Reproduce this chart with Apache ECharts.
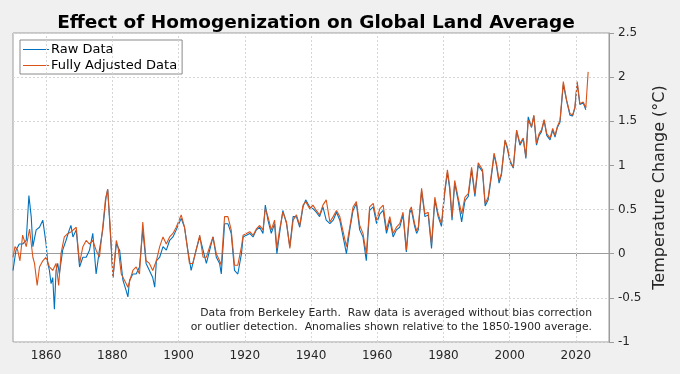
<!DOCTYPE html>
<html>
<head>
<meta charset="utf-8">
<script src="https://cdn.jsdelivr.net/npm/echarts@6/dist/echarts.min.js"></script>
<style>
html,body{margin:0;padding:0;background:#f0f0f0;}
#chart{width:680px;height:374px;}
</style>
</head>
<body>
<div id="chart"></div>
<script>
// ---- Data ----
const rawYears = [1850.0,1850.9,1851.9,1852.9,1854.0,1854.8,1855.5,1856.0,1857.0,1858.0,1859.0,1859.5,1860.0,1860.5,1861.0,1861.5,1862.0,1862.5,1863.0,1863.5,1864.0,1865.0,1866.0,1867.0,1867.5,1868.1,1869.1,1870.1,1871.1,1872.1,1873.1,1874.1,1875.1,1876.1,1877.1,1878.1,1878.6,1879.1,1880.2,1881.2,1882.2,1883.2,1884.2,1884.7,1885.2,1886.2,1887.2,1888.2,1889.2,1890.2,1891.2,1892.2,1892.8,1893.3,1894.3,1895.3,1896.3,1897.3,1898.3,1899.3,1900.8,1901.8,1902.8,1903.8,1905.3,1906.4,1907.4,1908.4,1909.4,1910.4,1911.4,1912.4,1912.9,1913.9,1914.9,1915.9,1916.9,1917.9,1919.0,1919.5,1920.5,1921.5,1922.5,1923.5,1924.5,1925.5,1926.2,1927.0,1928.0,1929.0,1929.7,1930.5,1931.5,1932.6,1933.6,1934.6,1935.6,1936.6,1937.6,1938.4,1939.6,1940.6,1941.6,1942.6,1943.6,1944.6,1945.7,1946.7,1947.7,1948.7,1949.7,1950.7,1951.7,1952.7,1953.7,1954.7,1955.7,1956.7,1957.7,1958.8,1959.8,1960.8,1961.8,1962.8,1963.8,1964.8,1965.8,1966.8,1967.8,1968.8,1969.8,1970.3,1971.3,1971.9,1972.4,1973.4,1974.4,1975.4,1976.4,1977.4,1978.4,1979.4,1980.4,1981.2,1981.9,1982.6,1983.4,1984.4,1985.5,1986.5,1987.5,1988.5,1989.5,1990.5,1991.0,1991.8,1992.6,1993.5,1994.5,1995.3,1996.0,1996.8,1997.5,1998.6,1999.3,2000.1,2001.1,2002.1,2003.1,2004.1,2004.9,2005.6,2006.6,2007.3,2008.1,2008.9,2009.6,2010.4,2011.2,2012.2,2013.0,2013.7,2014.4,2015.2,2016.2,2017.2,2018.2,2019.0,2019.7,2020.4,2021.2,2022.2,2023.0];
const rawTemps = [-0.19,0.04,0.11,0.11,0.15,0.66,0.42,0.08,0.27,0.30,0.38,0.40,0.11,-0.11,-0.19,-0.34,-0.27,-0.63,-0.19,-0.11,-0.23,0.04,0.15,0.27,0.32,0.19,0.27,-0.15,-0.04,-0.04,0.04,0.23,-0.23,0.04,0.27,0.64,0.73,0.42,-0.27,0.11,0.04,-0.30,-0.42,-0.49,-0.30,-0.23,-0.23,-0.15,0.27,-0.11,-0.19,-0.27,-0.38,-0.08,-0.04,0.08,0.04,0.15,0.19,0.27,0.40,0.30,0.04,-0.19,0.04,0.19,0.04,-0.11,0.04,0.19,-0.04,-0.11,-0.23,0.34,0.34,0.23,-0.19,-0.23,0.00,0.19,0.21,0.23,0.19,0.27,0.30,0.23,0.55,0.38,0.23,0.34,0.00,0.23,0.49,0.34,0.08,0.42,0.42,0.30,0.53,0.61,0.53,0.51,0.47,0.42,0.53,0.38,0.34,0.38,0.47,0.38,0.19,0.00,0.27,0.49,0.57,0.27,0.19,-0.08,0.49,0.53,0.34,0.45,0.49,0.23,0.38,0.19,0.27,0.30,0.44,0.02,0.46,0.50,0.31,0.23,0.27,0.71,0.42,0.44,0.06,0.61,0.42,0.31,0.69,0.92,0.73,0.38,0.80,0.61,0.36,0.60,0.65,0.95,0.65,1.00,1.02,0.93,0.54,0.61,0.88,1.12,1.00,0.80,0.89,1.28,1.19,1.04,0.97,1.39,1.23,1.30,1.08,1.55,1.43,1.56,1.23,1.34,1.38,1.51,1.34,1.29,1.40,1.32,1.43,1.49,1.92,1.73,1.57,1.56,1.65,1.93,1.69,1.71,1.63];
const adjYears = [1850.0,1850.6,1851.4,1852.1,1852.9,1854.0,1855.0,1856.0,1856.5,1857.3,1858.0,1859.0,1860.0,1861.0,1862.0,1863.0,1863.8,1864.5,1865.5,1866.6,1867.6,1869.1,1870.1,1871.1,1872.1,1873.1,1874.1,1875.1,1876.1,1877.1,1877.9,1878.6,1879.3,1880.2,1881.2,1881.7,1882.7,1884.2,1884.7,1886.2,1887.2,1888.2,1889.2,1890.2,1891.2,1892.2,1893.3,1894.3,1895.3,1896.3,1897.3,1898.3,1899.3,1900.8,1901.8,1903.3,1904.3,1905.3,1906.4,1907.4,1908.4,1909.4,1910.4,1911.4,1912.4,1912.9,1913.9,1914.9,1915.9,1916.9,1917.9,1919.0,1919.5,1920.5,1921.5,1922.5,1923.5,1924.5,1925.5,1926.2,1927.0,1928.0,1929.0,1929.7,1930.5,1931.5,1932.6,1933.6,1934.6,1935.6,1936.6,1937.6,1938.4,1939.6,1940.6,1941.6,1942.6,1943.6,1944.6,1945.7,1946.7,1947.7,1948.7,1949.7,1950.7,1951.7,1952.7,1953.7,1954.7,1955.7,1956.7,1957.7,1958.8,1959.8,1960.8,1961.8,1962.8,1963.8,1964.8,1965.8,1966.8,1967.8,1968.8,1969.8,1970.3,1971.3,1971.9,1972.4,1973.4,1974.4,1975.4,1976.4,1977.4,1978.4,1979.4,1980.4,1981.2,1981.9,1982.6,1983.4,1984.4,1985.5,1986.5,1987.5,1988.5,1989.5,1990.5,1991.0,1991.8,1992.6,1993.5,1994.5,1995.3,1996.0,1996.8,1997.5,1998.6,1999.3,2000.1,2001.1,2002.1,2003.1,2004.1,2004.9,2005.6,2006.6,2007.3,2008.1,2008.9,2009.6,2010.4,2011.2,2012.2,2013.0,2013.7,2014.4,2015.2,2016.2,2017.2,2018.2,2019.0,2019.7,2020.4,2021.2,2022.2,2023.0,2023.7];
const adjTemps = [-0.04,0.08,0.04,-0.08,0.21,0.08,0.28,-0.04,-0.11,-0.36,-0.15,-0.08,-0.04,-0.15,-0.19,-0.11,-0.36,0.00,0.19,0.23,0.25,0.30,-0.11,0.08,0.15,0.11,0.15,0.04,-0.04,0.30,0.61,0.73,0.34,-0.27,0.15,0.08,-0.23,-0.34,-0.38,-0.19,-0.15,-0.23,0.36,-0.08,-0.11,-0.19,-0.08,0.08,0.19,0.11,0.19,0.23,0.30,0.44,0.30,-0.11,-0.11,0.04,0.21,-0.04,-0.04,0.08,0.19,0.00,-0.08,-0.13,0.42,0.42,0.27,-0.13,-0.13,0.08,0.21,0.23,0.25,0.21,0.28,0.32,0.27,0.51,0.42,0.27,0.38,0.06,0.27,0.47,0.36,0.06,0.38,0.44,0.32,0.55,0.59,0.51,0.55,0.49,0.44,0.55,0.61,0.36,0.42,0.49,0.42,0.25,0.08,0.30,0.53,0.59,0.32,0.23,0.00,0.53,0.57,0.38,0.51,0.55,0.27,0.42,0.23,0.30,0.34,0.47,0.04,0.49,0.53,0.34,0.26,0.30,0.74,0.45,0.47,0.11,0.64,0.45,0.34,0.72,0.95,0.76,0.42,0.83,0.64,0.45,0.64,0.68,0.98,0.68,1.03,1.04,0.95,0.57,0.64,0.91,1.14,1.02,0.83,0.91,1.29,1.21,1.06,0.98,1.40,1.25,1.31,1.10,1.51,1.44,1.57,1.25,1.36,1.40,1.52,1.36,1.31,1.42,1.34,1.44,1.51,1.95,1.74,1.59,1.57,1.66,1.95,1.70,1.72,1.65,2.06];
const xTicks = [1860,1880,1900,1920,1940,1960,1980,2000,2020];
const seriesNames = ['Raw Data','Fully Adjusted Data'];
const titleText = 'Effect of Homogenization on Global Land Average';
const yAxisTitle = 'Temperature Change (°C)';
const noteLines = ['Data from Berkeley Earth.  Raw data is averaged without bias correction','or outlier detection.  Anomalies shown relative to the 1850-1900 average.'];

const zip = (xs, ys) => xs.map((x, i) => [x, ys[i]]);
const FONT = 'DejaVu Sans';
const chart = echarts.init(document.getElementById('chart'), null, {renderer: 'canvas'});
chart.setOption({
  backgroundColor: '#f0f0f0',
  animation: false,
  textStyle: {fontFamily: FONT},
  title: {
    text: titleText, left: 311, top: 9, textAlign: 'center',
    textStyle: {fontFamily: FONT, fontSize: 18.5, fontWeight: 'bold', color: '#000'}
  },
  grid: {left: 13, right: 71, top: 33, bottom: 32, show: true, backgroundColor: '#fff', borderColor: '#9c9c9c', borderWidth: 1},
  legend: {
    orient: 'vertical', left: 20, top: 40, data: seriesNames,
    icon: 'rect', itemWidth: 26, itemHeight: 1, itemGap: 3,
    padding: [3, 5, 2, 3], borderColor: '#8a8a8a', borderWidth: 1, backgroundColor: '#fff',
    textStyle: {fontFamily: FONT, fontSize: 13, color: '#000', padding: [0,0,0,-3]}
  },
  xAxis: {
    type: 'value', min: 1850, max: 2030,
    axisLine: {show: true, lineStyle: {color: '#9c9c9c'}},
    axisTick: {show: true, length: 5, customValues: xTicks, lineStyle: {color: '#9c9c9c'}},
    axisLabel: {customValues: xTicks, formatter: v => String(v), fontFamily: FONT, fontSize: 12, color: '#262626', margin: 8},
    splitLine: {show: false}
  },
  yAxis: {
    type: 'value', position: 'right', min: -1, max: 2.5, interval: 0.5,
    name: yAxisTitle, nameLocation: 'middle', nameRotate: 90, nameGap: 42,
    nameTextStyle: {fontFamily: FONT, fontSize: 16, color: '#262626'},
    axisLine: {show: true, lineStyle: {color: '#9c9c9c'}},
    axisTick: {show: true, length: 5, lineStyle: {color: '#9c9c9c'}},
    axisLabel: {fontFamily: FONT, fontSize: 12, color: '#262626', margin: 9},
    splitLine: {show: true, lineStyle: {color: '#d6d6d6', type: [2, 2], width: 1}}
  },
  graphic: [{
    type: 'text', right: 88, top: 306, z: 50,
    style: {text: noteLines.join('\n'), font: '10.8px "DejaVu Sans"', fill: '#262626', textAlign: 'right', lineHeight: 14}
  }],
  series: [
    {
      type: 'line', name: '_grid', data: [], z: 1, silent: true,
      markLine: {silent: true, symbol: 'none', label: {show: false},
        lineStyle: {color: '#d6d6d6', type: [2, 2], width: 1},
        data: xTicks.map(v => ({xAxis: v}))}
    },
    {type: 'line', name: seriesNames[0], data: zip(rawYears, rawTemps), showSymbol: false, smooth: false, z: 3,
     lineStyle: {color: '#0072BD', width: 1.1}, itemStyle: {color: '#0072BD'}},
    {type: 'line', name: seriesNames[1], data: zip(adjYears, adjTemps), showSymbol: false, smooth: false, z: 4,
     lineStyle: {color: '#D95319', width: 1.1}, itemStyle: {color: '#D95319'}}
  ]
});
</script>
</body>
</html>
